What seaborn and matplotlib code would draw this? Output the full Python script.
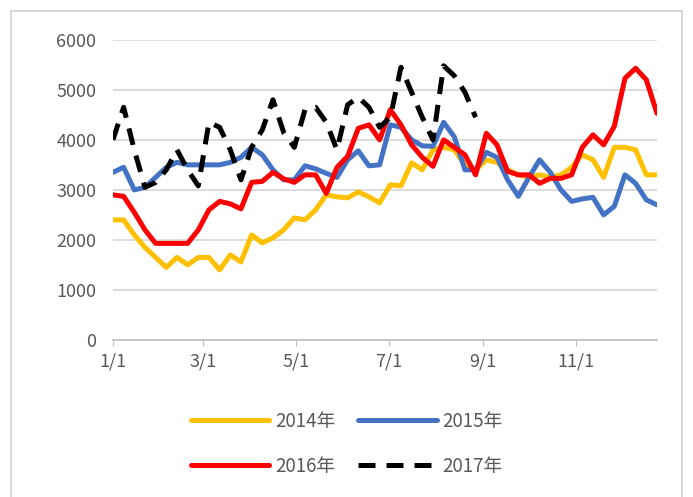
import matplotlib
matplotlib.use("Agg")
import matplotlib.pyplot as plt
import matplotlib.dates as mdates
from matplotlib.lines import Line2D
from matplotlib.patches import Rectangle
import numpy as np
import pandas as pd
import seaborn as sns

# weekly readings, one value per week starting 1/1
weeks = pd.date_range("2017-01-01", periods=52, freq="7D")

y2014 = [2400, 2400, 2100, 1850, 1650, 1450, 1650, 1500, 1650, 1650,
         1400, 1700, 1560, 2100, 1940, 2040, 2200, 2440, 2400, 2600,
         2900, 2860, 2840, 2960, 2860, 2740, 3100, 3080, 3540, 3400,
         3800, 3850, 3800, 3500, 3400, 3600, 3550, 3400, 3300, 3250,
         3300, 3250, 3300, 3450, 3700, 3600, 3250, 3850, 3850, 3800,
         3300, 3300]
y2015 = [3350, 3450, 3000, 3050, 3250, 3450, 3550, 3500, 3500, 3500,
         3500, 3550, 3650, 3850, 3700, 3400, 3200, 3200, 3480, 3420,
         3330, 3250, 3600, 3780, 3480, 3500, 4300, 4250, 4000, 3880,
         3870, 4350, 4060, 3400, 3400, 3750, 3650, 3200, 2870, 3250,
         3600, 3350, 3000, 2770, 2820, 2850, 2500, 2670, 3300, 3130,
         2800, 2700]
y2016 = [2900, 2870, 2550, 2200, 1930, 1930, 1930, 1930, 2200, 2600,
         2770, 2720, 2620, 3150, 3170, 3350, 3220, 3150, 3300, 3300,
         2930, 3450, 3670, 4230, 4300, 4000, 4600, 4300, 3900, 3650,
         3470, 4000, 3850, 3700, 3300, 4130, 3900, 3370, 3300, 3300,
         3130, 3230, 3230, 3300, 3850, 4100, 3900, 4270, 5230, 5430,
         5200, 4530]
y2017 = [4000, 4650, 3800, 3050, 3150, 3400, 3800, 3400, 3080, 4350,
         4250, 3800, 3200, 3850, 4200, 4800, 4150, 3850, 4600, 4650,
         4350, 3800, 4700, 4850, 4650, 4250, 4450, 5450, 4950, 4450,
         4000, 5480, 5280, 4950, 4450]

labels = ["2014年", "2015年", "2016年", "2017年"]
colors = ["#FFC000", "#4472C4", "#FF0000", "#000000"]
DASH = (0, (3.4, 2.2))

sns.set_style("white")
plt.rcParams["font.family"] = ["Noto Sans CJK SC", "DejaVu Sans"]

fig = plt.figure(figsize=(6.93, 4.97), dpi=100)
ax = fig.add_axes([0.163, 0.316, 0.785, 0.604])

# light chart-area frame
fig.patches.append(Rectangle((11 / 693, -0.01), 671 / 693, 1 - 11 / 497 + 0.01,
                             transform=fig.transFigure, fill=False,
                             edgecolor="#D0D0D0", linewidth=1.2))

series = [y2014, y2015, y2016, y2017]
for vals, lab, col in zip(series, labels, colors):
    sns.lineplot(x=weeks[:len(vals)], y=vals, ax=ax, color=col,
                 linewidth=3.6, linestyle=DASH if lab == "2017年" else "-",
                 legend=False)

ax.set_ylim(0, 6000)
ax.set_yticks(range(0, 6001, 1000))
ax.set_xlim(weeks[0], weeks[-1])
ax.xaxis.set_major_locator(mdates.MonthLocator(bymonth=[1, 3, 5, 7, 9, 11]))
ax.xaxis.set_major_formatter(mdates.DateFormatter("%-m/%-d"))

ax.grid(axis="y", color="#D9D9D9", linewidth=1.3)
ax.set_axisbelow(True)
for side in ["top", "right", "left"]:
    ax.spines[side].set_visible(False)
ax.spines["bottom"].set_color("#BFBFBF")
ax.spines["bottom"].set_linewidth(1.2)
ax.tick_params(axis="y", length=0, labelsize=13, labelcolor="#595959", pad=12)
ax.tick_params(axis="x", length=4, color="#BFBFBF", labelsize=13,
               labelcolor="#595959", bottom=True, pad=5)
ax.set_xlabel("")
ax.set_ylabel("")

handles = {l: Line2D([], [], color=c, linewidth=3.6,
                     linestyle=DASH if l == "2017年" else "-")
           for l, c in zip(labels, colors)}
# matplotlib fills legend columns first, so order for row-wise reading
order = ["2014年", "2016年", "2015年", "2017年"]
fig.legend([handles[l] for l in order], order, loc="center",
           bbox_to_anchor=(0.5, 0.107), ncol=2, frameon=False, fontsize=13.5,
           handlelength=4.2, handletextpad=0.3, columnspacing=1.2,
           labelspacing=1.3, labelcolor="#595959")

fig.savefig("out.png", dpi=100)
